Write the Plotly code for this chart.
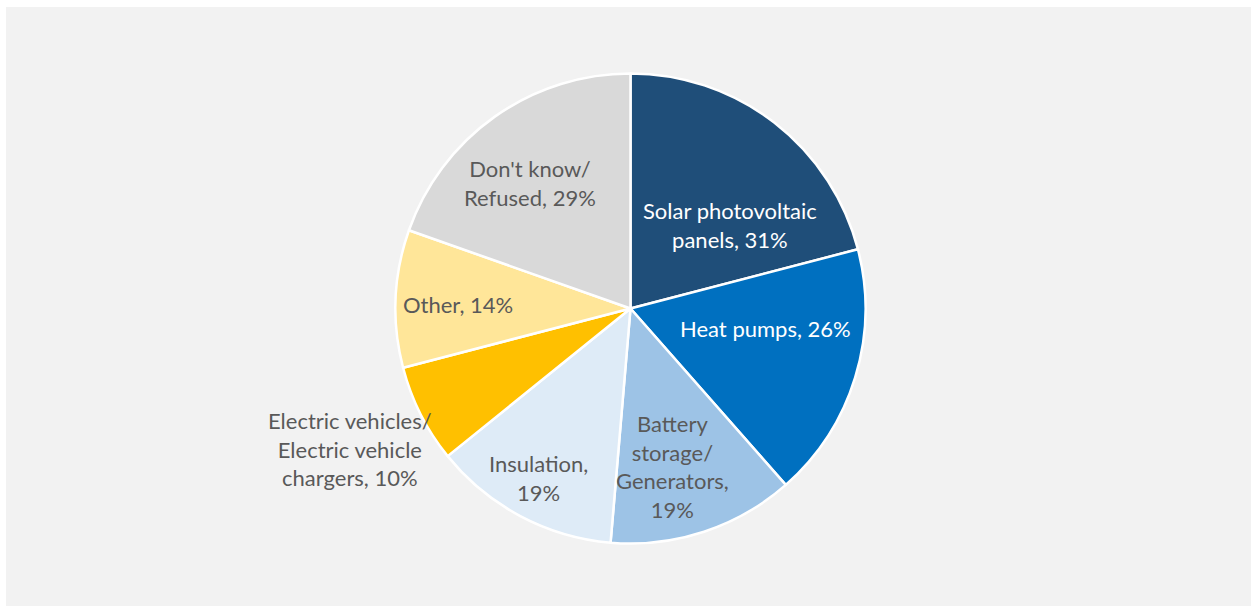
import plotly.graph_objects as go

categories = ["Solar photovoltaic<br>panels", "Heat pumps", "Battery<br>storage/<br>Generators",
              "Insulation,<br>", "Electric vehicles/<br>Electric vehicle<br>chargers", "Other",
              "Don't know/<br>Refused"]
values = [31, 26, 19, 19, 10, 14, 29]
colors = ["#1F4E79", "#0070C0", "#9DC3E6", "#DEEBF7", "#FFC000", "#FFE699", "#D9D9D9"]
text_colors = ["#FFFFFF", "#FFFFFF", "#595959", "#595959", "#595959", "#595959", "#595959"]
# label centres in pixels (x from left, y from top)
label_pos = [(730, 225), (765, 328), (673, 467), (538, 478), (350, 449), (458, 304), (530, 183)]

W, H = 1251, 607
cx, cy, R = 630.5, 308.5, 235

fig = go.Figure()
fig.add_trace(go.Pie(
    labels=[c.replace("<br>", " ") for c in categories],
    values=values,
    sort=False,
    direction="clockwise",
    rotation=0,
    marker=dict(colors=colors, line=dict(color="#FFFFFF", width=2.5)),
    textinfo="none",
    hoverinfo="label+value",
    showlegend=False,
    domain=dict(x=[(cx - R) / W, (cx + R) / W], y=[(H - cy - R) / H, (H - cy + R) / H]),
))

for cat, v, col, (px, py) in zip(categories, values, text_colors, label_pos):
    if cat.endswith("<br>"):
        txt = f"{cat}{v}%"
    elif cat.startswith("Battery"):
        txt = f"{cat},<br>{v}%"
    else:
        txt = f"{cat}, {v}%"
    fig.add_annotation(
        x=px / W, y=1 - py / H, xref="paper", yref="paper",
        text=txt, showarrow=False, align="center",
        font=dict(family="Lato, Carlito, Calibri, sans-serif", size=22, color=col),
        xanchor="center", yanchor="middle",
    )

fig.add_shape(type="rect", xref="paper", yref="paper",
              x0=6 / W, x1=1, y0=1 / H, y1=1 - 7 / H,
              fillcolor="#F2F2F2", line=dict(width=0), layer="below")

fig.update_layout(
    width=W, height=H,
    margin=dict(l=0, r=0, t=0, b=0),
    paper_bgcolor="#FFFFFF",
    plot_bgcolor="#FFFFFF",
)

fig.write_html("out.html", config={"displayModeBar": False},
               post_script="document.body.style.margin='0px';document.body.style.overflow='hidden';")
